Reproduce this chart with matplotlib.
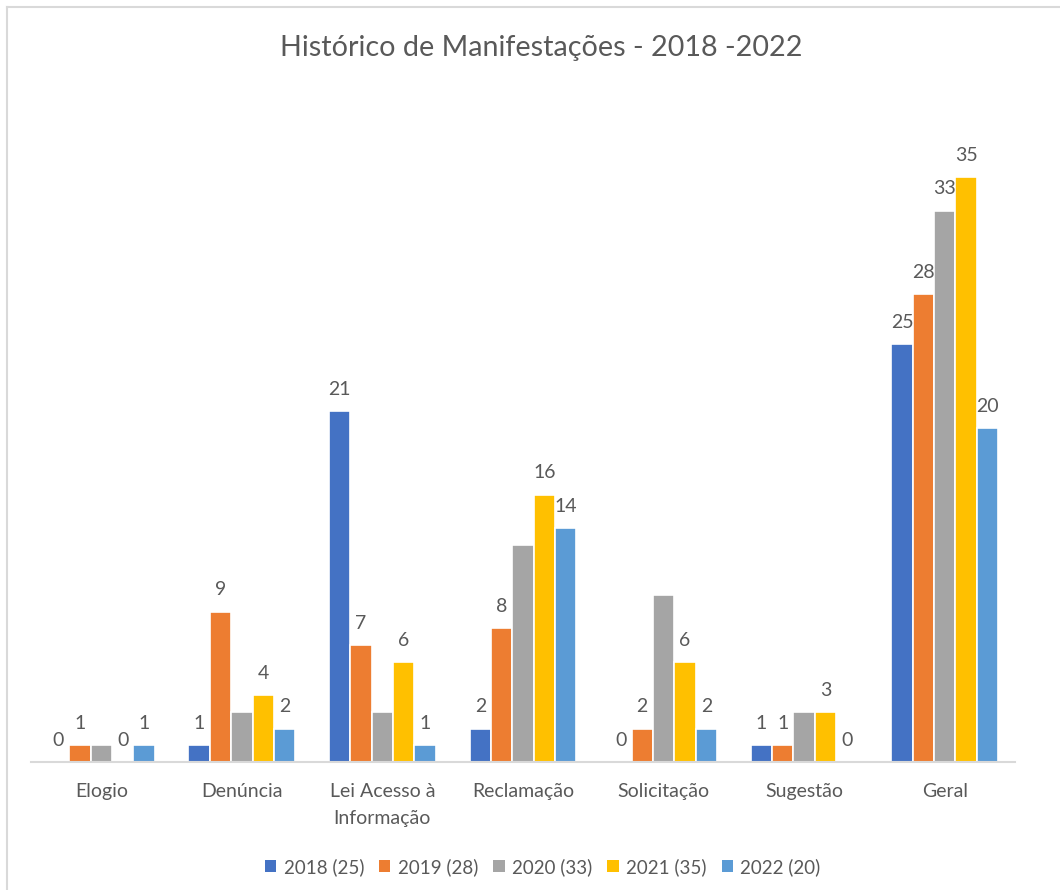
import matplotlib
matplotlib.use("Agg")
import matplotlib.pyplot as plt
from matplotlib.patches import Patch
from matplotlib.lines import Line2D
import numpy as np

categories = ["Elogio", "Denúncia", "Lei Acesso à\nInformação", "Reclamação",
              "Solicitação", "Sugestão", "Geral"]
series_names = ["2018 (25)", "2019 (28)", "2020 (33)", "2021 (35)", "2022 (20)"]
v2018 = [0, 1, 21, 2, 0, 1, 25]
v2019 = [1, 9, 7, 8, 2, 1, 28]
v2020 = [1, 3, 3, 13, 10, 3, 33]
v2021 = [0, 4, 6, 16, 6, 3, 35]
v2022 = [1, 2, 1, 14, 2, 0, 20]
# which data labels are shown (2020 only shows label on "Geral")
show2018 = [True] * 7
show2019 = [True] * 7
show2020 = [False, False, False, False, False, False, True]
show2021 = [True] * 7
show2022 = [True] * 7

colors = ["#4472C4", "#ED7D31", "#A5A5A5", "#FFC000", "#5B9BD5"]
text_color = "#595959"
font = "Lato"

series = [v2018, v2019, v2020, v2021, v2022]
shows = [show2018, show2019, show2020, show2021, show2022]

fig = plt.figure(figsize=(10.6, 8.9), dpi=100)
ax = fig.add_axes([31 / 1060, (890 - 762) / 890, (1015 - 31) / 1060, (762 - 93.6) / 890])

x = np.arange(len(categories))
step = 0.152
for i, (vals, show, col) in enumerate(zip(series, shows, colors)):
    pos = x + (i - 2) * step
    bars = ax.bar(pos, vals, width=step, color=col, edgecolor="white", linewidth=1.2,
                  label=series_names[i], zorder=2)
    for b, v, s in zip(bars, vals, show):
        if s:
            ax.annotate(str(v), (b.get_x() + b.get_width() / 2, v),
                        xytext=(0, 9.5), textcoords="offset points",
                        ha="center", va="bottom", fontsize=14,
                        color=text_color, family=font)

ax.set_xlim(-0.5, len(categories) - 0.5)
ax.set_ylim(0, 40)
ax.set_yticks([])
ax.set_xticks(x)
ax.set_xticklabels(categories, fontsize=14, color=text_color, family=font,
                   linespacing=1.75)
ax.tick_params(axis="x", length=0, pad=15)
for sp in ["top", "right", "left"]:
    ax.spines[sp].set_visible(False)
ax.spines["bottom"].set_color("#D9D9D9")
ax.spines["bottom"].set_linewidth(1.5)
ax.spines["bottom"].set_zorder(3)

fig.text(0.511, 1 - 48 / 890, "Histórico de Manifestações - 2018 -2022",
         ha="center", va="center", fontsize=20.7, color=text_color, family=font)

handles = [Patch(facecolor=c, edgecolor="none") for c in colors]
fig.legend(handles, series_names, loc="center", bbox_to_anchor=(0.512, 1 - 867 / 890),
           ncol=5, frameon=False, handlelength=0.6, handleheight=0.6,
           handletextpad=0.4, columnspacing=0.8, labelcolor=text_color,
           prop={"family": font, "size": 13.5})

# chart border (top and left visible)
fig.add_artist(Line2D([7 / 1060, 1], [1 - 7 / 890, 1 - 7 / 890], color="#D9D9D9", lw=1.5,
                      transform=fig.transFigure))
fig.add_artist(Line2D([7 / 1060, 7 / 1060], [0, 1 - 7 / 890], color="#D9D9D9", lw=1.5,
                      transform=fig.transFigure))

fig.savefig("out.png", dpi=100, facecolor="white")
